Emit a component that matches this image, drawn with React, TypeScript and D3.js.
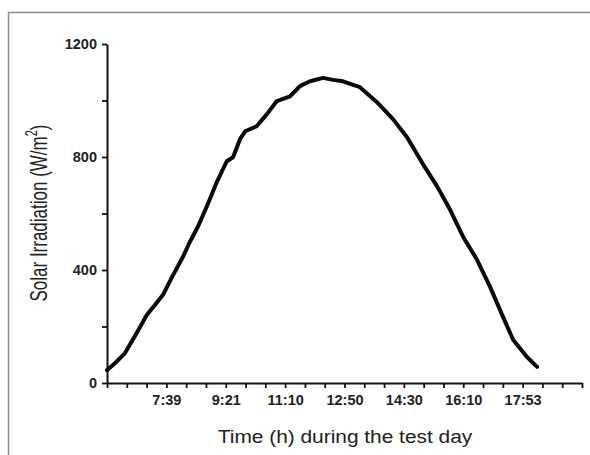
import React, { useEffect, useRef } from "react";
import * as d3 from "d3";

// x position as tick-step index along the time axis (24 steps)
const timeIndex = [
  0, 0.4, 0.91, 1.5, 2.01, 2.43, 2.83, 3.27, 3.84, 4.19, 4.6, 5.04, 5.54, 6.05,
  6.37, 6.72, 6.98, 7.56, 8.07, 8.58, 9.25, 9.75, 10.26, 10.91, 11.42, 11.92,
  12.78, 13.64, 14.45, 15.16, 15.97, 16.68, 17.33, 17.99, 18.69, 19.35, 20.01,
  20.52, 21.22, 21.73,
];
const irradiance = [
  45, 70, 106, 177, 241, 277, 312, 373, 447, 500, 554, 625, 710, 785, 799, 863,
  891, 909, 951, 998, 1015, 1051, 1068, 1080, 1073, 1068, 1047, 994, 934, 870,
  774, 696, 614, 518, 437, 341, 234, 153, 92, 57,
];
const timeLabels = ["7:39", "9:21", "11:10", "12:50", "14:30", "16:10", "17:53"];
const timeLabelIndex = [3, 6, 9, 12, 15, 18, 21];
const yTicks = [0, 400, 800, 1200];
const yMinorTicks = [200, 600, 1000];

const App = () => {
  const svgRef = useRef<SVGSVGElement>(null);

  useEffect(() => {
    const svg = d3.select(svgRef.current);
    svg.selectAll("*").remove();

    const width = 590;
    const height = 455;
    svg.attr("width", width).attr("height", height);

    svg.append("rect").attr("width", width).attr("height", height).attr("fill", "#fff");

    // outer frame (only left and top edges show)
    svg
      .append("path")
      .attr("d", `M8.5,${height} V12.5 H${width}`)
      .attr("fill", "none")
      .attr("stroke", "#8a8a8a")
      .attr("stroke-width", 1.5);

    const x = d3.scaleLinear().domain([0, 24]).range([107, 582]);
    const y = d3.scaleLinear().domain([0, 1200]).range([383, 44]);

    const font = "Arial, 'Liberation Sans', sans-serif";

    // X axis
    const xAxis = svg
      .append("g")
      .attr("transform", `translate(0,${y(0)})`)
      .call(
        d3
          .axisBottom(x)
          .tickValues(d3.range(0, 25))
          .tickSize(5)
          .tickSizeOuter(0)
          .tickFormat((d) => {
            const i = timeLabelIndex.indexOf(d as number);
            return i >= 0 ? timeLabels[i] : "";
          })
      );
    xAxis.select(".domain").attr("stroke", "#111").attr("stroke-width", 2);
    xAxis.selectAll(".tick line").attr("stroke", "#111").attr("stroke-width", 1.8);
    xAxis
      .selectAll(".tick text")
      .attr("y", 12)
      .style("font-family", font)
      .style("font-size", "14.5px")
      .style("font-weight", "bold")
      .attr("fill", "#222");

    // Y axis
    const yAxis = svg
      .append("g")
      .attr("transform", `translate(${x(0)},0)`)
      .call(
        d3
          .axisLeft(y)
          .tickValues([...yTicks, ...yMinorTicks])
          .tickSize(5)
          .tickSizeOuter(0)
          .tickFormat((d) => (yTicks.includes(d as number) ? String(d) : ""))
      );
    yAxis.select(".domain").attr("stroke", "#111").attr("stroke-width", 2);
    yAxis.selectAll(".tick line").attr("stroke", "#111").attr("stroke-width", 1.8);
    yAxis
      .selectAll(".tick text")
      .attr("x", -10)
      .style("font-family", font)
      .style("font-size", "14.5px")
      .style("font-weight", "bold")
      .attr("fill", "#222");

    // Axis titles
    svg
      .append("text")
      .attr("transform", "translate(345,443) scale(1.16,1)")
      .attr("text-anchor", "middle")
      .style("font-family", font)
      .style("font-size", "18px")
      .attr("fill", "#222")
      .text("Time (h) during the test day");

    const yTitle = svg
      .append("text")
      .attr("transform", "translate(47,213) rotate(-90) scale(1,1.45)")
      .attr("text-anchor", "middle")
      .style("font-family", font)
      .style("font-size", "17px")
      .attr("fill", "#222");
    yTitle.append("tspan").text("Solar Irradiation (W/m");
    yTitle.append("tspan").attr("dy", -7).style("font-size", "11px").text("2");
    yTitle.append("tspan").attr("dy", 7).text(")");

    // Curve
    const points = timeIndex.map((t, i) => [t, irradiance[i]] as [number, number]);
    const line = d3
      .line<[number, number]>()
      .x((d) => x(d[0]))
      .y((d) => y(d[1]));

    svg
      .append("path")
      .datum(points)
      .attr("d", line)
      .attr("fill", "none")
      .attr("stroke", "#0a0a0a")
      .attr("stroke-width", 4)
      .attr("stroke-linejoin", "round")
      .attr("stroke-linecap", "round");
  }, []);

  return (
    <div style={{ position: "absolute", left: 0, top: 0 }}>
      <svg ref={svgRef}></svg>
    </div>
  );
};

export default App;
